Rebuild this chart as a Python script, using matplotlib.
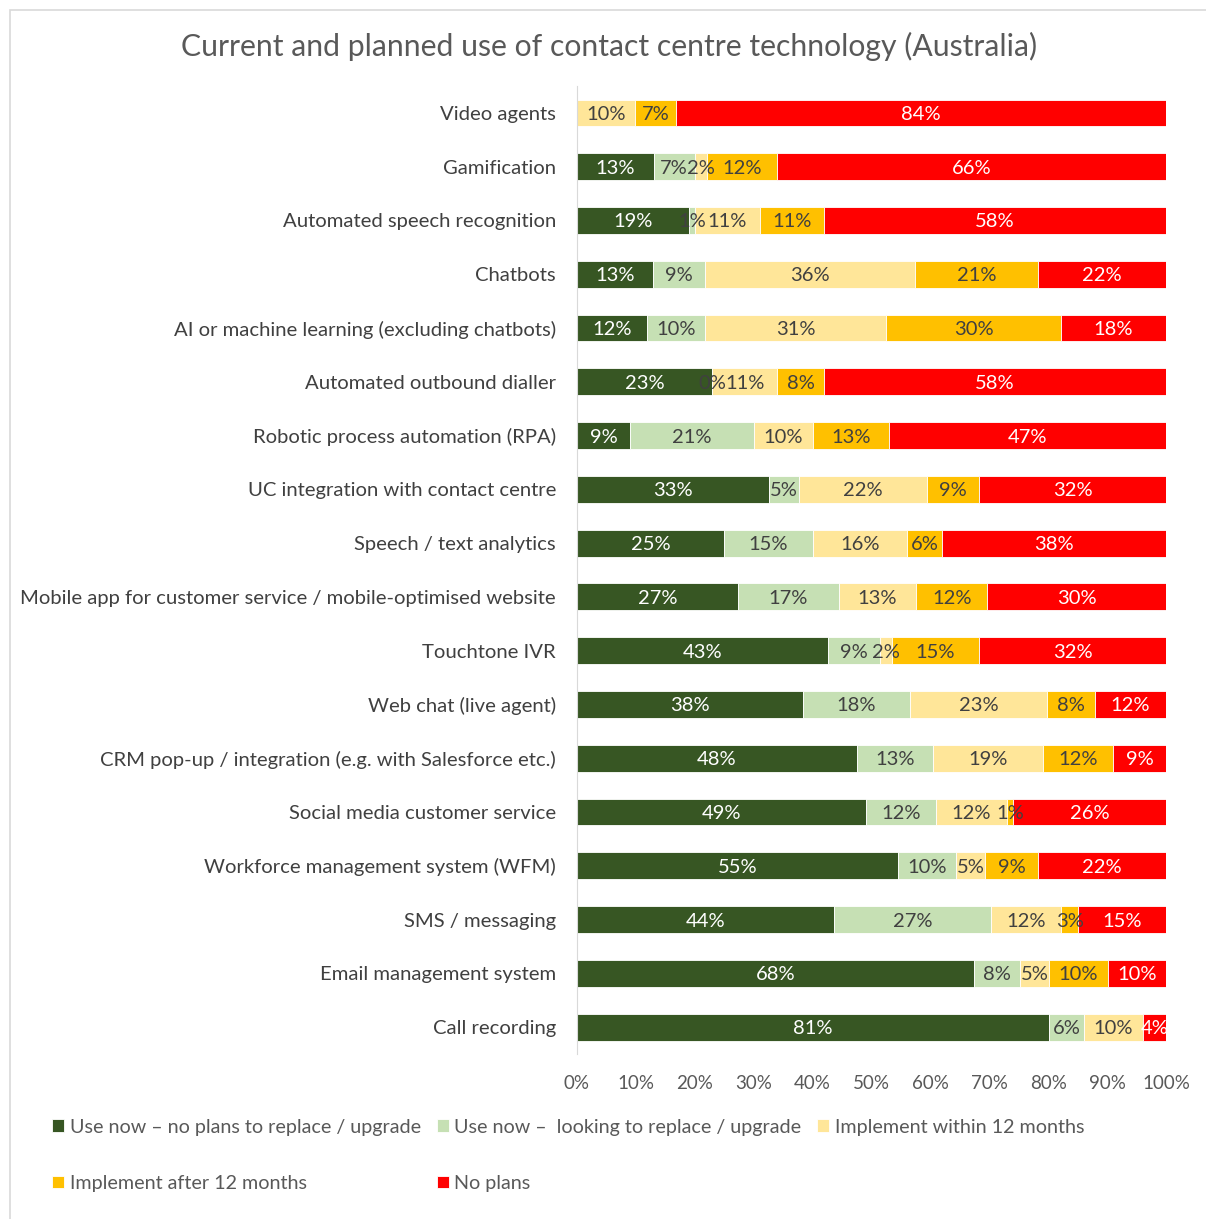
import matplotlib.pyplot as plt
import numpy as np
from matplotlib.patches import Rectangle

plt.rcParams['font.family'] = ['Lato', 'DejaVu Sans']

categories = [
    'Video agents',
    'Gamification',
    'Automated speech recognition',
    'Chatbots',
    'AI or machine learning (excluding chatbots)',
    'Automated outbound dialler',
    'Robotic process automation (RPA)',
    'UC integration with contact centre',
    'Speech / text analytics',
    'Mobile app for customer service / mobile-optimised website',
    'Touchtone IVR',
    'Web chat (live agent)',
    'CRM pop-up / integration (e.g. with Salesforce etc.)',
    'Social media customer service',
    'Workforce management system (WFM)',
    'SMS / messaging',
    'Email management system',
    'Call recording',
]

# percentages per category; None = no response recorded
use_no_replace = [None, 13, 19, 13, 12, 23, 9, 33, 25, 27, 43, 38, 48, 49, 55, 44, 68, 81]
use_replace = [None, 7, 1, 9, 10, 0, 21, 5, 15, 17, 9, 18, 13, 12, 10, 27, 8, 6]
within_12 = [10, 2, 11, 36, 31, 11, 10, 22, 16, 13, 2, 23, 19, 12, 5, 12, 5, 10]
after_12 = [7, 12, 11, 21, 30, 8, 13, 9, 6, 12, 15, 8, 12, 1, 9, 3, 10, None]
no_plans = [84, 66, 58, 22, 18, 58, 47, 32, 38, 30, 32, 12, 9, 26, 22, 15, 10, 4]

series = [
    ('Use now \u2013 no plans to replace / upgrade', use_no_replace, '#375623', 'white'),
    ('Use now \u2013  looking to replace / upgrade', use_replace, '#C6E0B4', '#404040'),
    ('Implement within 12 months', within_12, '#FFE699', '#404040'),
    ('Implement after 12 months', after_12, '#FFC000', '#404040'),
    ('No plans', no_plans, '#FF0000', 'white'),
]

raw = np.array([[np.nan if v is None else v for v in s[1]] for s in series], dtype=float)
totals = np.nansum(raw, axis=0)
shares = np.nan_to_num(raw) / totals * 100

fig = plt.figure(figsize=(12.06, 12.19), dpi=100)
ax = fig.add_axes([0.4784, 0.1354, 0.4884, 0.794])

y = np.arange(len(categories))
left = np.zeros(len(categories))
handles = []
for i, (name, vals, color, tcolor) in enumerate(series):
    bars = ax.barh(y, shares[i], left=left, height=0.5, color=color,
                   edgecolor='white', linewidth=0.6, label=name)
    labels = ['' if v is None else f'{v}%' for v in vals]
    txts = ax.bar_label(bars, labels=labels, label_type='center', color=tcolor, fontsize=14.5)
    for t in txts:
        t.set_va('center_baseline')
    left += shares[i]
    handles.append(bars)

ax.set_ylim(len(categories) - 0.5, -0.5)
ax.set_xlim(0, 100)
ax.set_yticks(y)
ax.set_yticklabels(categories, fontsize=14.6, color='#404040')
ax.set_xticks(np.arange(0, 101, 10))
ax.set_xticklabels([f'{t}%' for t in range(0, 101, 10)], fontsize=13.5, color='#595959')
ax.tick_params(axis='both', length=0)
ax.tick_params(axis='y', pad=15)
ax.tick_params(axis='x', pad=15)
for side in ['top', 'right', 'bottom']:
    ax.spines[side].set_visible(False)
ax.spines['left'].set_color('#D9D9D9')

fig.text(0.505, 0.962, 'Current and planned use of contact centre technology (Australia)',
         ha='center', va='center', fontsize=21.7, color='#595959')

order = [0, 3, 1, 4, 2]
fig.legend([handles[i] for i in order], [series[i][0] for i in order],
           loc='upper left', bbox_to_anchor=(0.035, 0.0905), ncol=3, frameon=False,
           fontsize=14.2, labelcolor='#595959', handlelength=0.6, handleheight=0.6,
           handletextpad=0.3, columnspacing=0.8, labelspacing=2.0, borderpad=0)

# chart area border
fig.patches.append(Rectangle((0.0083, -0.01), 1.1, 1.0018, transform=fig.transFigure,
                             fill=False, edgecolor='#D9D9D9', linewidth=1.2))

fig.savefig('out.png', dpi=100)
